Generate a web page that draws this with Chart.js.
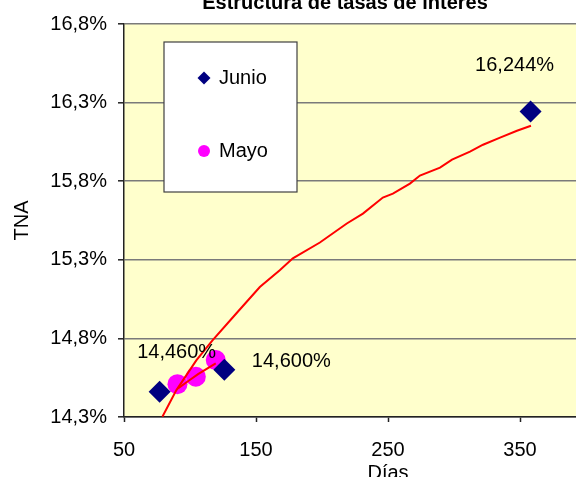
<!DOCTYPE html>
<html>
<head>
<meta charset="utf-8">
<script src="https://cdn.jsdelivr.net/npm/chart.js@4/dist/chart.umd.min.js"></script>
<style>
  html, body { margin: 0; padding: 0; overflow: hidden; background: #fff; width: 576px; height: 477px; }
  #wrap { position: absolute; left: 0; top: 0; }
  canvas { display: block; }
</style>
</head>
<body>
<div id="wrap"><canvas id="c" width="690" height="497"></canvas></div>
<script>
// Estructura de tasas: títulos, ejes y series
const chartTitle = 'Estructura de tasas de interés';
const xTitle = 'Días';
const yTitle = 'TNA';
const xTicks = [50, 150, 250, 350, 450];
const yTicks = [14.3, 14.8, 15.3, 15.8, 16.3, 16.8];

// Puntos observados (días al vencimiento, TNA %)
const junioDias  = [77, 126, 358];
const junioTasas = [14.460, 14.600, 16.244];
const mayoDias   = [90.5, 104.4, 119.5];
const mayoTasas  = [14.509, 14.556, 14.662];

// Curvas de tendencia
const tendJunioDias  = [79.1, 89.7, 104.9, 117.2, 135.2, 152.9, 168.0, 177.9, 198.4, 218.8, 231.0, 246.1, 253.7, 266.6, 274.2, 289.4, 298.5, 312.1, 322.0, 334.9, 347.7, 358.3];
const tendJunioTasas = [14.302, 14.471, 14.662, 14.789, 14.960, 15.127, 15.233, 15.309, 15.410, 15.531, 15.594, 15.696, 15.721, 15.785, 15.836, 15.886, 15.937, 15.988, 16.032, 16.077, 16.121, 16.153];
const tendMayoDias   = [90.9, 99.8, 106.1, 119.5];
const tendMayoTasas  = [14.482, 14.535, 14.573, 14.641];

const pares = (xs, ys) => xs.map((x, i) => ({ x, y: ys[i] }));
const fmtPct = (v, d) => v.toFixed(d).replace('.', ',') + '%';

const FONT = '"Liberation Sans", Arial, sans-serif';
Chart.defaults.font.family = FONT;
Chart.defaults.font.size = 20;
Chart.defaults.color = '#000';

// Fondo amarillo del área de trazado
const fondoArea = {
  id: 'fondoArea',
  beforeDraw(chart) {
    const { ctx, chartArea: a } = chart;
    ctx.save();
    ctx.fillStyle = '#FFFFCC';
    ctx.fillRect(a.left, a.top, a.right - a.left, a.bottom - a.top);
    ctx.restore();
  }
};

// Título general centrado sobre el gráfico
const tituloGeneral = {
  id: 'tituloGeneral',
  afterDraw(chart, args, opts) {
    const { ctx } = chart;
    ctx.save();
    ctx.font = 'bold 20px ' + FONT;
    ctx.fillStyle = '#000';
    ctx.textAlign = 'center';
    ctx.textBaseline = 'alphabetic';
    ctx.fillText(opts.text, chart.width / 2, opts.baseline);
    ctx.restore();
  }
};

// Rótulos con el valor de cada punto de junio
const rotulos = {
  id: 'rotulos',
  afterDatasetsDraw(chart, args, opts) {
    const { ctx } = chart;
    const meta = chart.getDatasetMeta(opts.dataset);
    const valores = chart.data.datasets[opts.dataset].data;
    ctx.save();
    ctx.font = '20px ' + FONT;
    ctx.fillStyle = '#000';
    ctx.textAlign = 'center';
    ctx.textBaseline = 'middle';
    meta.data.forEach((pt, i) => {
      const [dx, dy] = opts.offsets[i];
      ctx.fillText(fmtPct(valores[i].y, 3), pt.x + dx, pt.y + dy);
    });
    ctx.restore();
  }
};

// Leyenda en recuadro dentro del área de trazado
const cajaLeyenda = {
  id: 'cajaLeyenda',
  afterDraw(chart, args, opts) {
    const { ctx, chartArea: a } = chart;
    const x0 = a.left + opts.dx, y0 = a.top + opts.dy;
    ctx.save();
    ctx.fillStyle = '#fff';
    ctx.fillRect(x0, y0, opts.w, opts.h);
    ctx.strokeStyle = '#404040';
    ctx.lineWidth = 1.2;
    ctx.strokeRect(x0, y0, opts.w, opts.h);
    opts.series.forEach((idx, k) => {
      const ds = chart.data.datasets[idx];
      const mx = x0 + opts.markerX, my = y0 + opts.rows[k];
      ctx.fillStyle = ds.backgroundColor;
      ctx.beginPath();
      if (ds.pointStyle === 'rectRot') {
        const r = opts.diamond;
        ctx.moveTo(mx, my - r); ctx.lineTo(mx + r, my); ctx.lineTo(mx, my + r); ctx.lineTo(mx - r, my);
        ctx.closePath();
      } else {
        ctx.arc(mx, my, opts.dot, 0, Math.PI * 2);
      }
      ctx.fill();
      ctx.fillStyle = '#000';
      ctx.font = '20px ' + FONT;
      ctx.textAlign = 'left';
      ctx.textBaseline = 'middle';
      ctx.fillText(ds.label, x0 + opts.textX, my);
    });
    ctx.restore();
  }
};

new Chart(document.getElementById('c'), {
  type: 'scatter',
  data: {
    datasets: [
      {
        label: 'Junio',
        data: pares(junioDias, junioTasas),
        pointStyle: 'rectRot',
        pointRadius: 11,
        pointHoverRadius: 11,
        backgroundColor: '#000080',
        borderColor: '#000080',
        borderWidth: 0,
        order: 2
      },
      {
        label: 'Mayo',
        data: pares(mayoDias, mayoTasas),
        pointStyle: 'circle',
        pointRadius: 10,
        pointHoverRadius: 10,
        backgroundColor: '#FF00FF',
        borderColor: '#FF00FF',
        borderWidth: 0,
        order: 2
      },
      {
        label: 'Tendencia junio',
        data: pares(tendJunioDias, tendJunioTasas),
        showLine: true,
        pointRadius: 0,
        borderColor: '#FF0000',
        borderWidth: 2,
        fill: false,
        tension: 0,
        order: 0
      },
      {
        label: 'Tendencia mayo',
        data: pares(tendMayoDias, tendMayoTasas),
        showLine: true,
        pointRadius: 0,
        borderColor: '#FF0000',
        borderWidth: 2,
        fill: false,
        tension: 0,
        order: 0
      }
    ]
  },
  options: {
    responsive: false,
    animation: false,
    events: [],
    layout: { padding: { top: 24, right: 38, left: 0, bottom: 0 } },
    plugins: {
      legend: { display: false },
      tooltip: { enabled: false },
      tituloGeneral: { text: chartTitle, baseline: 9 },
      rotulos: { dataset: 0, offsets: [[17, -39], [67, -8], [-16, -46]] },
      cajaLeyenda: { series: [0, 1], dx: 40, dy: 18, w: 133, h: 150, rows: [36, 109], markerX: 40, textX: 55, diamond: 6.5, dot: 6 }
    },
    scales: {
      x: {
        type: 'linear',
        min: 50,
        max: 450,
        afterBuildTicks: s => { s.ticks = xTicks.map(v => ({ value: v })); },
        afterFit: s => { s.height = 80; },
        grid: { drawOnChartArea: false, drawTicks: true, tickLength: 5, tickColor: '#222', tickWidth: 1.5 },
        border: { color: '#222', width: 1.5 },
        ticks: { padding: 16, maxRotation: 0, autoSkip: false, font: { size: 20 }, color: '#000' },
        title: { display: true, text: xTitle, font: { size: 20 }, color: '#000', padding: { top: 0, bottom: 12 } }
      },
      y: {
        type: 'linear',
        min: 14.3,
        max: 16.8,
        afterBuildTicks: s => { s.ticks = yTicks.map(v => ({ value: v })); },
        afterFit: s => { s.width = 124; },
        grid: { color: '#7a7a7a', lineWidth: 1.6, tickLength: 6, tickColor: '#222', tickWidth: 1.5 },
        border: { color: '#222', width: 1.5 },
        ticks: { padding: 11, font: { size: 20 }, color: '#000', callback: v => fmtPct(v, 1) },
        title: { display: true, text: yTitle, font: { size: 20 }, color: '#000', padding: { top: 10, bottom: 0 } }
      }
    }
  },
  plugins: [fondoArea, rotulos, cajaLeyenda, tituloGeneral]
});
</script>
</body>
</html>
